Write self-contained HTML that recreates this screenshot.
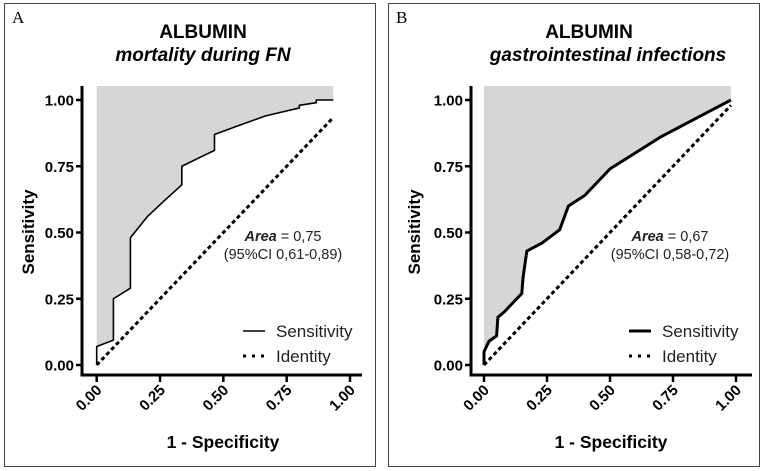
<!DOCTYPE html>
<html><head><meta charset="utf-8">
<style>
html,body{margin:0;padding:0;background:#fff;}
svg{display:block;font-family:"Liberation Sans",Arial,sans-serif;}
</style></head>
<body>
<svg id="chart" width="764" height="471" viewBox="0 0 764 471"></svg>
<script>
const tickValues = [0, 0.25, 0.5, 0.75, 1];
const tickLabels = ["0.00", "0.25", "0.50", "0.75", "1.00"];
const rocAx = [0,0,0.066,0.066,0.133,0.133,0.2,0.267,0.336,0.336,0.4,0.465,0.465,0.55,0.667,0.8,0.8,0.867,0.867,0.934];
const rocAy = [0,0.07,0.094,0.25,0.29,0.48,0.56,0.62,0.68,0.75,0.78,0.81,0.87,0.9,0.94,0.97,0.98,0.99,1.0,1.0];
const rocBx = [0,0,0.02,0.05,0.055,0.08,0.12,0.15,0.155,0.17,0.23,0.3,0.335,0.4,0.5,0.6,0.7,0.8,0.9,0.98];
const rocBy = [0,0.05,0.09,0.11,0.18,0.2,0.24,0.27,0.33,0.43,0.46,0.51,0.6,0.64,0.74,0.8,0.86,0.91,0.96,1.0];
const identityA = [0, 0.934];
const identityB = [0, 0.98];
const panels = [
 {id:"a", letter:"A", off:0, sub:"mortality during FN", xs:rocAx, ys:rocAy, idn:identityA, area:"0,75", ci:"(95%CI 0,61-0,89)", x0:96.7, x1:350, yAxisX:82, xAxisEnd:362, lw:1.6, titleX:203, subX:203, annX:283, legX:243},
 {id:"b", letter:"B", off:384, sub:"gastrointestinal infections", xs:rocBx, ys:rocBy, idn:identityB, area:"0,67", ci:"(95%CI 0,58-0,72)", x0:100, x1:352, yAxisX:87, xAxisEnd:368, lw:3, titleX:205, subX:224, annX:286, legX:245}
];
const svg = document.getElementById('chart');
const NS = "http://www.w3.org/2000/svg";
function mk(tag, attrs, parent, text){
  const e = document.createElementNS(NS, tag);
  for (const k in attrs) e.setAttribute(k, attrs[k]);
  if (text !== undefined) e.textContent = text;
  parent.appendChild(e); return e;
}
panels.forEach(p => {
  const g = mk('g', {transform:`translate(${p.off},0)`}, svg);
  
  
  const sx = v => p.x0 + v * (p.x1 - p.x0);
  const sy = v => 365 - v * 265;
  const border = mk('rect', {x:4.5, y:3.5, width:371, height:463, fill:'none', stroke:'#444', 'stroke-width':1}, g);
   
  const lt = mk('text', {x:12, y:23, 'font-family':'"Liberation Serif",serif', 'font-size':17}, g, p.letter);
   
  const t1 = mk('text', {x:p.titleX, y:38, 'text-anchor':'middle', 'font-weight':'bold', 'font-size':19}, g, 'ALBUMIN');
   
  const t2 = mk('text', {x:p.subX, y:61, 'text-anchor':'middle', 'font-weight':'bold', 'font-style':'italic', 'font-size':19}, g, p.sub);
   
  let d = `M${sx(p.xs[0])},${sy(p.ys[0])}`;
  for (let i=1;i<p.xs.length;i++) d += ` L${sx(p.xs[i])},${sy(p.ys[i])}`;
  const xe = p.xs[p.xs.length-1];
  const shade = mk('path', {d: d + ` L${sx(xe)},86 L${sx(p.xs[0])},86 Z`, fill:'#d6d6d6', stroke:'none'}, g);
   
  const idl = mk('line', {x1:sx(p.idn[0]), y1:sy(p.idn[0]), x2:sx(p.idn[1]), y2:sy(p.idn[1]), stroke:'#000', 'stroke-width':3, 'stroke-dasharray':'4,3'}, g);
   
  const curve = mk('path', {d:d, fill:'none', stroke:'#000', 'stroke-width':p.lw, 'stroke-linejoin':'round'}, g);
   
  const ya = mk('line', {x1:p.yAxisX, y1:86, x2:p.yAxisX, y2:376.5, stroke:'#000', 'stroke-width':3}, g);
   
  const xa = mk('line', {x1:p.yAxisX-1.5, y1:375, x2:p.xAxisEnd, y2:375, stroke:'#000', 'stroke-width':3}, g);
   
  tickValues.forEach((v,i) => {
    const yt = mk('line', {x1:p.yAxisX-6, y1:sy(v), x2:p.yAxisX, y2:sy(v), stroke:'#000', 'stroke-width':2.5}, g);
     
    const yl = mk('text', {x:p.yAxisX-8, y:sy(v)+5.5, 'text-anchor':'end', 'font-weight':'bold', 'font-size':15}, g, tickLabels[i]);
     
    const xt = mk('line', {x1:sx(v), y1:375, x2:sx(v), y2:382, stroke:'#000', 'stroke-width':2.5}, g);
     
    const xl = mk('text', {x:sx(v)+6, y:391, 'text-anchor':'end', 'font-weight':'bold', 'font-size':15, transform:`rotate(-45 ${sx(v)+6} 391)`}, g, tickLabels[i]);
     
  });
  const yti = mk('text', {x:0, y:0, 'text-anchor':'middle', 'font-weight':'bold', 'font-size':17, transform:`translate(${p.id==='a'?34:36},232) rotate(-90)`}, g, 'Sensitivity');
   
  const xti = mk('text', {x:p.id==='a'?223:227, y:448, 'text-anchor':'middle', 'font-weight':'bold', 'font-size':17.5}, g, '1 - Specificity');
   
  const an = mk('text', {x:p.annX, y:241, 'text-anchor':'middle', 'font-size':14.5, fill:'#222'}, g);
   
  mk('tspan', {'font-weight':'bold', 'font-style':'italic'}, an, 'Area');
  mk('tspan', {}, an, ' = ' + p.area);
  const ci = mk('text', {x:p.annX, y:259, 'text-anchor':'middle', 'font-size':14.5, fill:'#222'}, g, p.ci);
   
  const l1 = mk('line', {x1:p.legX, y1:331, x2:p.legX+22, y2:331, stroke:'#000', 'stroke-width':p.lw}, g);
   
  const lt1 = mk('text', {x:p.legX+33, y:337, 'font-size':17, fill:'#222'}, g, 'Sensitivity');
   
  const l2 = mk('line', {x1:p.legX, y1:356, x2:p.legX+22, y2:356, stroke:'#000', 'stroke-width':3, 'stroke-dasharray':'3,6'}, g);
   
  const lt2 = mk('text', {x:p.legX+33, y:362, 'font-size':17, fill:'#222'}, g, 'Identity');
   
});
</script>
</body></html>
